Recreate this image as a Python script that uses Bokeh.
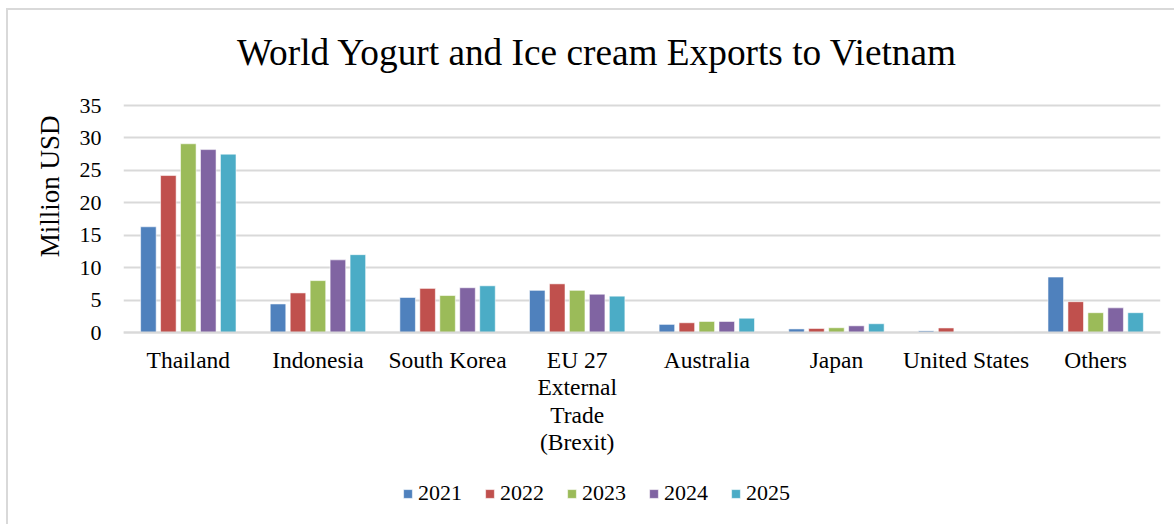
from bokeh.plotting import figure
from bokeh.models import FactorRange, ColumnDataSource, Legend, LegendItem, Title, Label
from bokeh.transform import dodge
from bokeh.embed import file_html
from bokeh.resources import INLINE

# Exporters (categories) and yearly values in million USD
countries = ["Thailand", "Indonesia", "South Korea", "EU 27\nExternal\nTrade\n(Brexit)",
             "Australia", "Japan", "United States", "Others"]
years = ["2021", "2022", "2023", "2024", "2025"]
v2021 = [16.3, 4.4, 5.4, 6.5, 1.25, 0.55, 0.25, 8.55]
v2022 = [24.2, 6.1, 6.8, 7.5, 1.5, 0.62, 0.7, 4.75]
v2023 = [29.1, 8.0, 5.7, 6.5, 1.7, 0.73, 0.02, 3.05]
v2024 = [28.2, 11.2, 6.9, 5.9, 1.7, 1.03, 0.0, 3.8]
v2025 = [27.5, 12.0, 7.2, 5.6, 2.2, 1.35, 0.05, 3.05]
y_ticks = [0, 5, 10, 15, 20, 25, 30, 35]

colors = ["#4F81BD", "#C0504D", "#9BBB59", "#8064A2", "#4BACC6"]
FONT = "Liberation Serif"

# Canvas layout (pixels). The plotting frame fills the canvas height so that the
# title, the category labels and the legend can all be placed inside it.
W, H = 1168, 516
LEFT, RIGHT = 115, 16
Y35, ZERO_Y = 95, 322             # pixel rows of the values 35 and 0
TITLE_BASELINE = 42
px_per_unit = (ZERO_Y - Y35) / 35.0
y_high = ZERO_Y / px_per_unit
y_low = -(H - ZERO_Y) / px_per_unit
px_per_cat = (W - LEFT - RIGHT) / len(countries)

src = ColumnDataSource(data=dict(country=countries, **{
    "y2021": v2021, "y2022": v2022, "y2023": v2023, "y2024": v2024, "y2025": v2025}))

p = figure(width=W, height=H, x_range=FactorRange(*countries), y_range=(y_low, y_high),
           output_backend="svg", toolbar_location=None,
           min_border_left=LEFT, min_border_right=RIGHT, min_border_top=0,
           min_border_bottom=0)
# light chart-area border on the top and left edges
p.styles = {"margin-left": "6px", "margin-top": "8px",
            "border-left": "2px solid #d9d9d9", "border-top": "2px solid #d9d9d9"}
p.outline_line_color = None
p.background_fill_color = "white"
p.border_fill_color = "white"

pitch = 0.154
offsets = [-2 * pitch, -pitch, 0, pitch, 2 * pitch]
renderers = []
for yr, off, c in zip(years, offsets, colors):
    r = p.vbar(x=dodge("country", off, range=p.x_range), top="y" + yr, width=0.12,
               source=src, fill_color=c, line_color="white", line_alpha=0.55,
               line_width=1)
    renderers.append(r)

# value axis
p.yaxis.ticker = y_ticks
p.yaxis.axis_line_color = None
p.yaxis.major_tick_line_color = None
p.yaxis.minor_tick_line_color = None
p.yaxis.major_label_standoff = 16
p.yaxis.major_label_text_font = FONT
p.yaxis.major_label_text_font_size = "22px"
p.yaxis.major_label_text_color = "black"

# value-axis caption, placed beside the 0-35 span
p.add_layout(Title(text="Million USD", align="right", offset=105, standoff=24,
                   text_font=FONT, text_font_size="27px", text_font_style="normal",
                   text_color="black"), "left")

# category axis pinned to the zero line
p.xaxis.fixed_location = 0
p.xaxis.axis_line_color = "#d9d9d9"
p.xaxis.axis_line_width = 2
p.xaxis.major_tick_line_color = None
p.xaxis.minor_tick_line_color = None
p.xaxis.major_label_standoff = 8
p.xaxis.major_label_text_font = FONT
p.xaxis.major_label_text_font_size = "23.5px"
p.xaxis.major_label_text_line_height = 1.06
p.xaxis.major_label_text_color = "black"

p.xgrid.grid_line_color = None
p.ygrid.grid_line_color = "#d9d9d9"
p.ygrid.grid_line_width = 2

# chart title
p.add_layout(Label(x=(589 - LEFT) / px_per_cat, y=(ZERO_Y - TITLE_BASELINE) / px_per_unit,
                   text="World Yogurt and Ice cream Exports to Vietnam",
                   text_align="center", text_baseline="alphabetic",
                   text_font=FONT, text_font_size="37.3px", text_color="black"))

items = [LegendItem(label=yr, renderers=[r]) for yr, r in zip(years, renderers)]
legend = Legend(items=items, orientation="horizontal", location=(279, 20),
                glyph_width=11, glyph_height=11, label_standoff=5, spacing=22,
                padding=0, margin=0, border_line_color=None, background_fill_alpha=0,
                label_text_font=FONT, label_text_font_size="22px", label_text_color="black")
p.add_layout(legend, "center")

open("out.html", "w").write(file_html(p, INLINE))
